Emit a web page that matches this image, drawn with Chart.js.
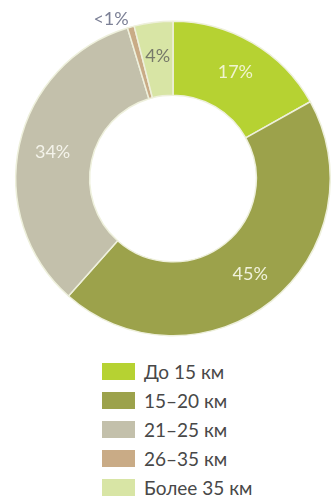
<!DOCTYPE html>
<html>
<head>
<meta charset="utf-8">
<script src="https://cdn.jsdelivr.net/npm/chart.js@4"></script>
<style>
    html, body { margin: 0; padding: 0; background: #ffffff; }
    #wrap { position: relative; width: 331px; height: 499px; overflow: hidden; }
    #chartBox { position: absolute; left: 0; top: 0; width: 331px; height: 345px; }
    #legend { position: absolute; left: 102px; top: 357px; font-family: Lato, 'Open Sans', sans-serif; font-size: 19px; color: #484848; }
    .row { display: flex; align-items: center; height: 29px; }
    .swatch { width: 33px; height: 17px; margin-right: 9px; }
</style>
</head>
<body>
<div id="wrap">
    <div id="chartBox"><canvas id="distanceChart"></canvas></div>
    <div id="legend"></div>
</div>
<script>
const PALETTE = {
    lime: '#b6d232',
    olive: '#9ca24b',
    stone: '#c3c0ab',
    tan: '#c9ab86',
    pale: '#d8e5a5',
    seam: '#eef0dc'
};

const categories = ['До 15 км', '15–20 км', '21–25 км', '26–35 км', 'Более 35 км'];
const shares = [17, 45, 34, 0.7, 4];
const shareLabels = ['17%', '45%', '34%', '<1%', '4%'];
const sliceColors = [PALETTE.lime, PALETTE.olive, PALETTE.stone, PALETTE.tan, PALETTE.pale];
const labelColors = ['#f0f4d0', '#f0f2dc', '#f4f3ea', '#7c8096', '#777a6a'];

// writes the percentage on each slice; tiny slices get it outside the ring
const sliceLabels = {
    id: 'sliceLabels',
    afterDatasetsDraw(chart) {
        const ctx = chart.ctx;
        const meta = chart.getDatasetMeta(0);
        ctx.save();
        ctx.font = "18px Lato, 'Open Sans', sans-serif";
        ctx.textBaseline = 'middle';
        meta.data.forEach((arc, i) => {
            const p = arc.getProps(['x', 'y', 'startAngle', 'endAngle', 'innerRadius', 'outerRadius'], true);
            const mid = (p.startAngle + p.endAngle) / 2;
            let r = (p.innerRadius + p.outerRadius) / 2 + 3;
            ctx.textAlign = 'center';
            if (shares[i] < 2) {
                r = p.outerRadius + 8;
                ctx.textAlign = 'right';
            }
            ctx.fillStyle = labelColors[i];
            ctx.fillText(shareLabels[i], p.x + Math.cos(mid) * r, p.y + Math.sin(mid) * r);
        });
        ctx.restore();
    }
};

new Chart(document.getElementById('distanceChart'), {
    type: 'doughnut',
    data: {
        labels: categories,
        datasets: [{
            data: shares,
            backgroundColor: sliceColors,
            borderColor: PALETTE.seam,
            borderWidth: 1.5
        }]
    },
    options: {
        responsive: true,
        maintainAspectRatio: false,
        animation: false,
        cutout: '53%',
        layout: { padding: { left: 15, right: 0, top: 18, bottom: 6 } },
        plugins: {
            legend: { display: false },
            tooltip: { enabled: false }
        }
    },
    plugins: [sliceLabels]
});

const legendBox = document.getElementById('legend');
categories.forEach((name, i) => {
    const row = document.createElement('div');
    row.className = 'row';
    const sw = document.createElement('div');
    sw.className = 'swatch';
    sw.style.background = sliceColors[i];
    const txt = document.createElement('span');
    txt.textContent = name;
    row.appendChild(sw);
    row.appendChild(txt);
    legendBox.appendChild(row);
});
</script>
</body>
</html>
